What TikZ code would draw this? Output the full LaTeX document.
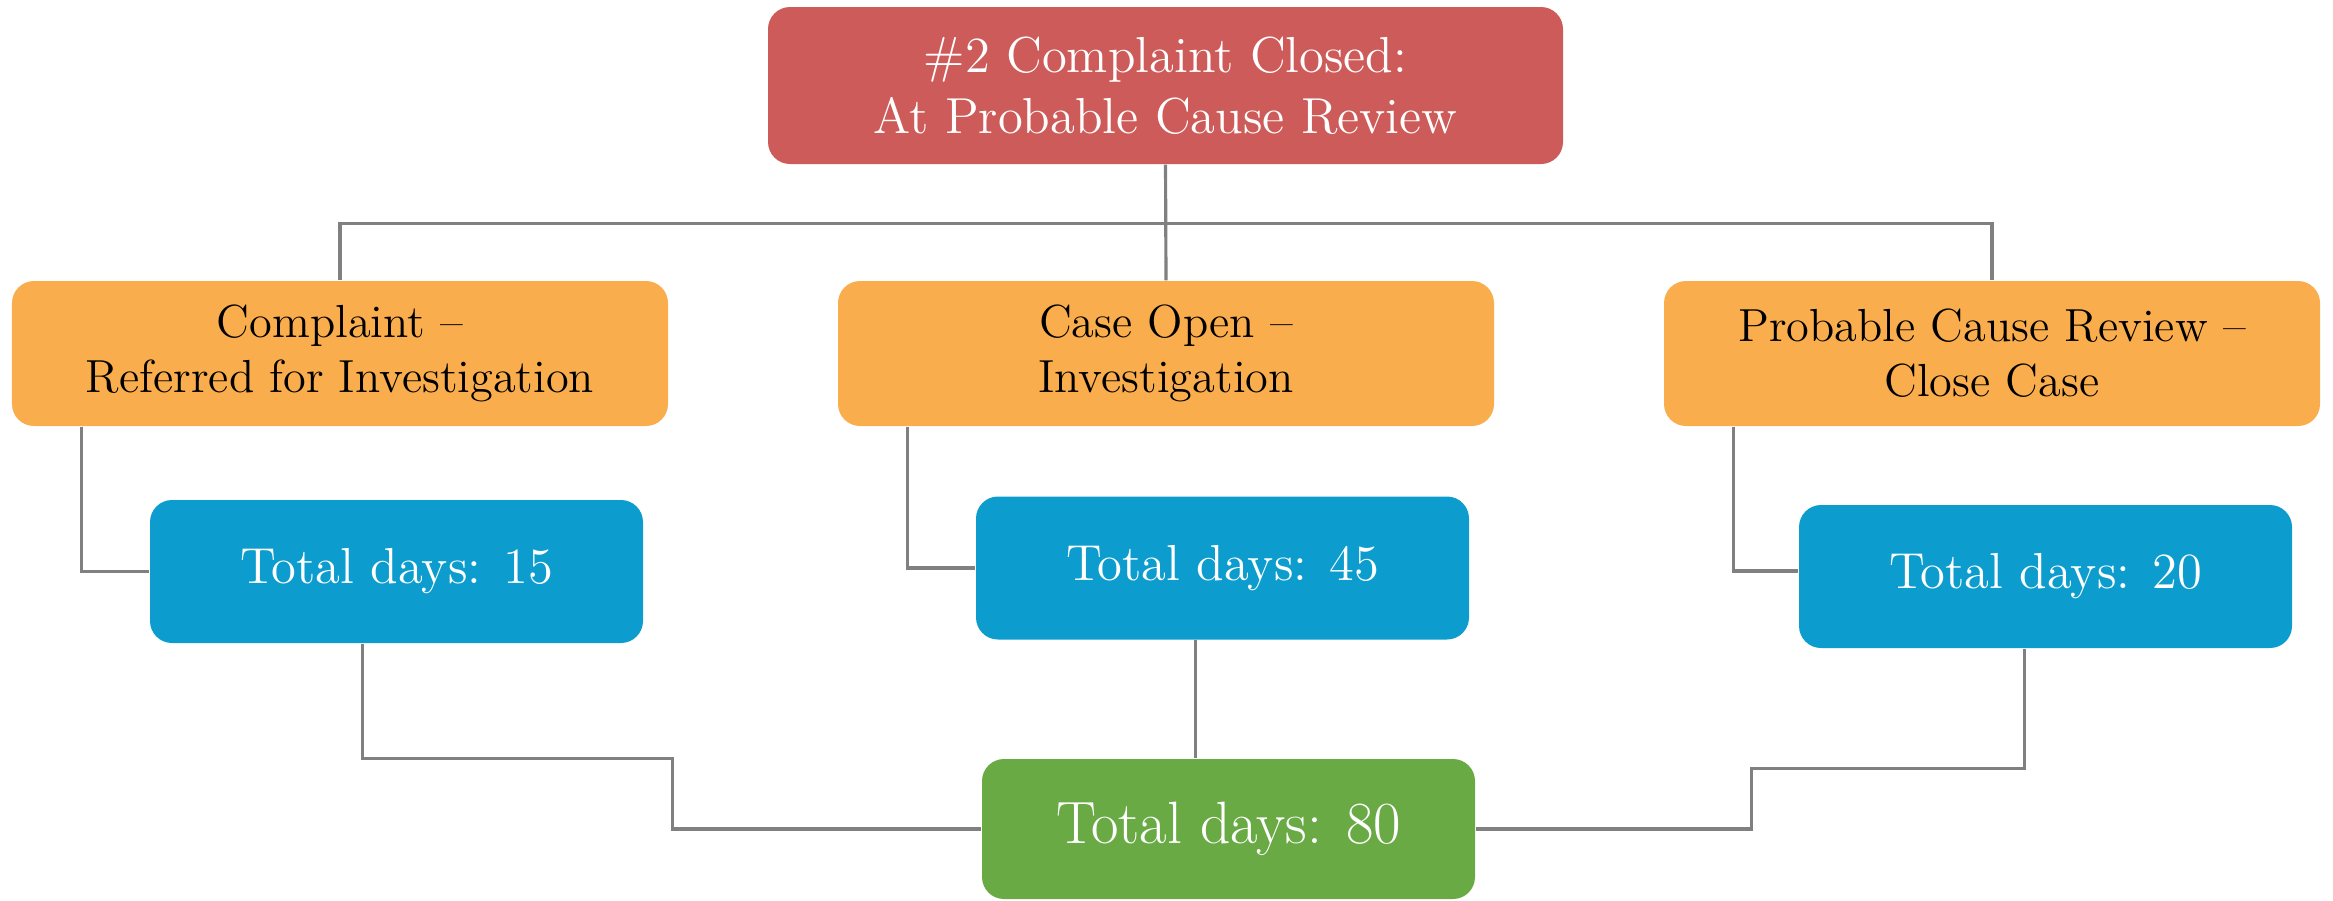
\documentclass[tikz,border=0pt]{standalone}
\usepackage{tikz}
\usetikzlibrary{positioning}

\definecolor{redbox}{HTML}{CD5B59}
\definecolor{orangebox}{HTML}{FAAD4C}
\definecolor{bluebox}{HTML}{0C9DCE}
\definecolor{greenbox}{HTML}{69AA45}
\definecolor{wire}{HTML}{808080}

\begin{document}
\begin{tikzpicture}[
    box/.style={rectangle, rounded corners=0.22cm, inner sep=0pt, align=center},
    title/.style={box, fill=redbox, text=white, minimum width=7.95cm, minimum height=1.57cm,
        font=\fontsize{14.4}{17.4}\selectfont},
    stage/.style={box, fill=orangebox, text=black, minimum width=6.56cm, minimum height=1.45cm,
        font=\fontsize{13.2}{15.6}\selectfont},
    days/.style={box, fill=bluebox, text=white, minimum width=4.93cm, minimum height=1.43cm,
        font=\fontsize{14.4}{17}\selectfont},
    total/.style={box, fill=greenbox, text=white, minimum width=4.93cm, minimum height=1.40cm,
        font=\fontsize{17}{20}\selectfont},
    wire/.style={draw=wire, line width=0.9pt}
]
    \useasboundingbox (0,0) rectangle (23.33,-9);

    % top of the tree
    \node[title] (top) at (11.655,-0.855) {\#2 Complaint Closed:\\At Probable Cause Review};

    % the three stages
    \node[stage] (ol) at (3.40,-3.535) {Complaint --\\Referred for Investigation};
    \node[stage] (om) at (11.66,-3.535) {Case Open --\\Investigation};
    \node[stage] (or) at (19.92,-3.535) {Probable Cause Review --\\Close Case};

    % days per stage
    \node[days] (bl) at (3.965,-5.715) {Total days: 15};
    \node[days] (bm) at (12.225,-5.68) {Total days: 45};
    \node[days] (br) at (20.455,-5.765) {Total days: 20};

    \node[total] (gr) at (12.285,-8.29) {Total days: 80};

    % wires
    \coordinate (bus) at ([yshift=-0.59cm]top.south);
    \draw[wire] (top.south) -- (om.north);
    \draw[wire] (bus) -| (ol.north);
    \draw[wire] (bus) -| (or.north);

    \draw[wire] ([xshift=0.7cm]ol.south west) |- (bl.west);
    \draw[wire] ([xshift=0.7cm]om.south west) |- (bm.west);
    \draw[wire] ([xshift=0.7cm]or.south west) |- ([yshift=0.055cm]br.west);

    \draw[wire] ([xshift=2.13cm]bl.south west) |- ([xshift=-3.09cm]gr.north west) |- (gr.west);
    \draw[wire] (bm.south -| gr.north) ++(-0.33,0) coordinate (bmx) -- (bmx |- gr.north);
    \draw[wire] ([xshift=2.26cm]br.south west) |- ([xshift=2.76cm,yshift=-0.1cm]gr.north east) |- (gr.east);

\end{tikzpicture}
\end{document}
